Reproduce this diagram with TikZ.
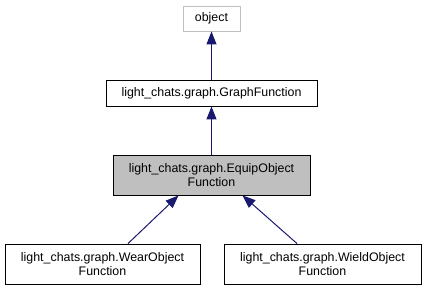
\documentclass[tikz,border=0pt]{standalone}
\usepackage{fontspec}
\setmainfont{Liberation Sans}
\usetikzlibrary{arrows.meta,calc}
\definecolor{edgeblue}{HTML}{191970}
\definecolor{boxgrey}{HTML}{BFBFBF}
\tikzset{
  cls/.style={draw=black, line width=0.9bp, fill=white, inner sep=0pt,
    align=center, font=\fontsize{12.4bp}{14.5bp}\selectfont},
  extcls/.style={cls, draw=boxgrey},
  focuscls/.style={cls, fill=boxgrey},
  inherit/.style={draw=edgeblue, line width=1bp,
    {Triangle[length=13bp,width=10bp]}-}
}
\begin{document}
\begin{tikzpicture}[x=1bp,y=-1bp]
\useasboundingbox (0,0) rectangle (426,291);
\node[extcls, minimum width=57bp, minimum height=25bp] (obj) at (211.5,18.5) {object};
\node[cls, minimum width=211bp, minimum height=26bp] (gf) at (211.5,93) {light\_chats.graph.GraphFunction};
\node[focuscls, minimum width=197bp, minimum height=40bp] (eq) at (211.5,175) {light\_chats.graph.EquipObject\\Function};
\node[cls, minimum width=195bp, minimum height=40bp] (wear) at (102.5,264) {light\_chats.graph.WearObject\\Function};
\node[cls, minimum width=197bp, minimum height=40bp] (wield) at (322.5,264) {light\_chats.graph.WieldObject\\Function};
\draw[inherit] (obj.south) -- (gf.north);
\draw[inherit] (gf.south) -- (eq.north);
\draw[inherit] ($(eq.south)+(-33,0)$) -- ($(wear.north)+(25.5,0)$);
\draw[inherit] ($(eq.south)+(31,0)$) -- ($(wield.north)+(-25.5,0)$);
\end{tikzpicture}
\end{document}
